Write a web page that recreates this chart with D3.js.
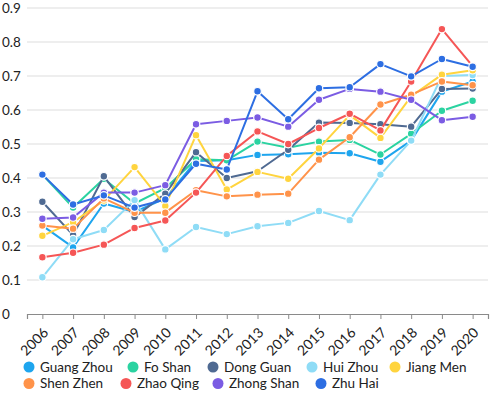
<!DOCTYPE html>
<html>
<head>
<meta charset="utf-8">
<script src="https://cdn.jsdelivr.net/npm/d3@7"></script>
<style>
  body { margin: 0; background: #fff; }
  text { font-family: Lato, "Noto Sans", sans-serif; fill: #222; }
</style>
</head>
<body>
<div id="chart"></div>
<script>
// data
const years = ["2006","2007","2008","2009","2010","2011","2012","2013","2014","2015","2016","2017","2018","2019","2020"];
const cities = ["Guang Zhou","Fo Shan","Dong Guan","Hui Zhou","Jiang Men","Shen Zhen","Zhao Qing","Zhong Shan","Zhu Hai"];
const colors = ["#1ea5ee","#2bd3a1","#4f6a92","#8fdcf6","#ffd43e","#ff934a","#f55656","#7b5ce3","#2d6ee2"];
const yTicks = [0,0.1,0.2,0.3,0.4,0.5,0.6,0.7,0.8,0.9];

const guangZhou = [0.26,0.196,0.325,0.30,0.34,0.45,0.452,0.468,0.47,0.474,0.473,0.448,0.51,0.654,0.684];
const foShan    = [0.41,0.313,0.398,0.325,0.37,0.455,0.452,0.507,0.489,0.507,0.512,0.469,0.53,0.598,0.627];
const dongGuan  = [0.33,0.232,0.405,0.285,0.354,0.476,0.40,0.42,0.483,0.563,0.562,0.558,0.551,0.662,0.663];
const huiZhou   = [0.108,0.22,0.247,0.335,0.19,0.256,0.235,0.258,0.268,0.303,0.276,0.41,0.51,0.70,0.703];
const jiangMen  = [0.23,0.27,0.334,0.432,0.318,0.526,0.366,0.418,0.398,0.487,0.585,0.518,0.64,0.704,0.717];
const shenZhen  = [0.26,0.251,0.34,0.298,0.298,0.364,0.346,0.351,0.354,0.454,0.52,0.616,0.645,0.684,0.673];
const zhaoQing  = [0.167,0.18,0.204,0.253,0.275,0.357,0.465,0.537,0.50,0.547,0.589,0.54,0.684,0.838,0.729];
const zhongShan = [0.28,0.284,0.357,0.357,0.379,0.558,0.568,0.578,0.551,0.63,0.662,0.654,0.63,0.57,0.58];
const zhuHai    = [0.41,0.322,0.349,0.313,0.337,0.442,0.425,0.655,0.573,0.664,0.667,0.735,0.699,0.75,0.727];

const seriesValues = [guangZhou, foShan, dongGuan, huiZhou, jiangMen, shenZhen, zhaoQing, zhongShan, zhuHai];
const series = cities.map((c, i) => ({name: c, color: colors[i], values: seriesValues[i]}));

// dimensions
const W = 491, H = 394;
const margin = {top: 8, right: 3, bottom: 80, left: 27};
const width = W - margin.left - margin.right,
    height = H - margin.top - margin.bottom;

const svg = d3.select("#chart")
  .append("svg")
    .attr("width", W)
    .attr("height", H);

const g = svg.append("g")
    .attr("transform", `translate(${margin.left},${margin.top})`);

const x = d3.scalePoint()
  .domain(years)
  .range([0, width])
  .padding(0.5);

const y = d3.scaleLinear()
  .domain([0, 0.9])
  .range([height, 0]);

// grid lines + y labels
g.append("g")
  .selectAll("line")
  .data(yTicks.filter(d => d > 0))
  .join("line")
    .attr("x1", 0)
    .attr("x2", width)
    .attr("y1", d => y(d))
    .attr("y2", d => y(d))
    .attr("stroke", "#e9e9e9")
    .attr("stroke-width", 1.5);

g.append("g")
  .selectAll("text")
  .data(yTicks)
  .join("text")
    .attr("x", -25)
    .attr("y", d => y(d))
    .attr("dy", "0.36em")
    .attr("font-size", 13.5)
    .text(d => d === 0 ? "0" : d3.format(".1f")(d));

// x axis
const xAxis = g.append("g")
  .attr("transform", `translate(0,${height})`)
  .call(d3.axisBottom(x).tickSizeOuter(0).tickSize(5));
xAxis.select(".domain").attr("stroke", "#8a8a8a").attr("stroke-width", 1.2);
xAxis.selectAll(".tick line").attr("stroke", "#8a8a8a");
xAxis.selectAll(".tick text")
  .attr("font-size", 14)
  .attr("fill", "#222")
  .attr("text-anchor", "end")
  .attr("y", 0)
  .attr("dy", "0.35em")
  .attr("transform", "translate(3,16) rotate(-45)");

// lines
const line = d3.line()
  .x((d, i) => x(years[i]))
  .y(d => y(d));

const sg = g.selectAll(".series")
  .data(series)
  .join("g")
    .attr("class", "series");

sg.append("path")
  .attr("d", d => line(d.values))
  .attr("fill", "none")
  .attr("stroke", d => d.color)
  .attr("stroke-width", 2)
  .attr("stroke-linejoin", "round");

sg.selectAll("circle")
  .data(d => d.values.map((v, i) => ({v, i, color: d.color})))
  .join("circle")
    .attr("cx", d => x(years[d.i]))
    .attr("cy", d => y(d.v))
    .attr("r", 3.8)
    .attr("fill", d => d.color)
    .attr("stroke", "#fff")
    .attr("stroke-width", 1.2);

// legend: two rows, item left edges matched to the reference layout
const legendX = [29, 133, 213, 312, 395, 29, 126, 218, 321];
const legend = svg.append("g");
const items = legend.selectAll("g")
  .data(series)
  .join("g")
    .attr("transform", (d, i) => `translate(${legendX[i]},${i < 5 ? 367 : 383.5})`);
items.append("circle")
  .attr("r", 5.5)
  .attr("fill", d => d.color);
items.append("text")
  .attr("x", 11)
  .attr("dy", "0.36em")
  .attr("font-size", 13.5)
  .text(d => d.name);
</script>
</body>
</html>
